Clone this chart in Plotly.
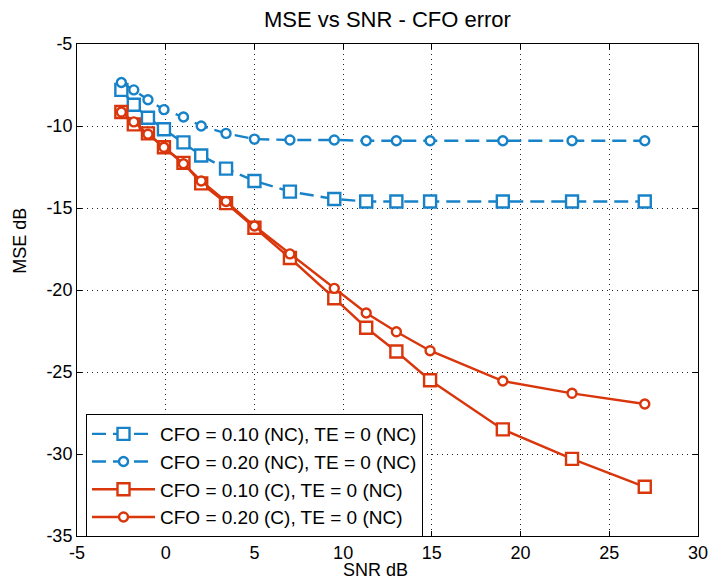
import plotly.graph_objects as go

# SNR sweep (dB)
snr = [-2.5, -1.8, -1, -0.1, 1, 2, 3.4, 5, 7, 9.5, 11.3, 13, 14.9, 19, 22.9, 27]

# MSE (dB) per configuration
mse_cfo10_nc = [-7.8, -8.7, -9.5, -10.2, -11.0, -11.8, -12.6, -13.35, -14.0, -14.45,
                -14.6, -14.6, -14.6, -14.6, -14.6, -14.6]
mse_cfo20_nc = [-7.35, -7.8, -8.4, -9.0, -9.45, -10.0, -10.45, -10.8, -10.85, -10.85,
                -10.9, -10.9, -10.9, -10.9, -10.9, -10.9]
mse_cfo10_c = [-9.15, -9.9, -10.45, -11.3, -12.25, -13.5, -14.7, -16.2, -18.05, -20.5,
               -22.3, -23.75, -25.5, -28.5, -30.3, -32.0]
mse_cfo20_c = [-9.15, -9.75, -10.5, -11.3, -12.3, -13.35, -14.6, -16.1, -17.8, -19.9,
               -21.4, -22.55, -23.7, -25.55, -26.3, -26.95]

labels = [
    "CFO = 0.10 (NC), TE = 0 (NC)",
    "CFO = 0.20 (NC), TE = 0 (NC)",
    "CFO = 0.10 (C), TE = 0 (NC)",
    "CFO = 0.20 (C), TE = 0 (NC)",
]

x_ticks = [-5, 0, 5, 10, 15, 20, 25, 30]
y_ticks = [-5, -10, -15, -20, -25, -30, -35]

BLUE = "#1782c8"
RED = "#d9360c"
FONT = "Liberation Sans, Arial, sans-serif"
DASH = "14px,7px"

series = [
    (mse_cfo10_nc, labels[0], BLUE, DASH, "square", 12),
    (mse_cfo20_nc, labels[1], BLUE, DASH, "circle", 9),
    (mse_cfo10_c, labels[2], RED, "solid", "square", 12),
    (mse_cfo20_c, labels[3], RED, "solid", "circle", 9),
]

fig = go.Figure()
for ys, name, color, dash, symbol, size in series:
    fig.add_trace(go.Scatter(
        x=snr, y=ys, name=name, mode="lines+markers",
        line=dict(color=color, width=2.4, dash=dash),
        marker=dict(symbol=symbol, size=size, color="white",
                    line=dict(color=color, width=2.4)),
    ))

axis_common = dict(
    showline=True, linecolor="black", linewidth=1, mirror="ticks",
    ticks="inside", ticklen=5, tickcolor="black",
    showgrid=True, gridcolor="#222222", gridwidth=1, griddash="1px,4px",
    zeroline=False, tickfont=dict(family=FONT, size=18, color="black"),
    ticklabeloverflow="allow", automargin=False,
)

# hyphen-minus labels, as in the classic plotting style
fig.update_xaxes(range=[-5, 30], tickvals=x_ticks,
                 ticktext=[str(v) for v in x_ticks], **axis_common)
fig.update_yaxes(range=[-35, -5], tickvals=y_ticks,
                 ticktext=[str(v) for v in y_ticks], **axis_common)

fig.update_layout(
    width=709, height=585, autosize=False,
    margin=dict(l=77, r=11, t=44, b=49),
    paper_bgcolor="white", plot_bgcolor="white",
    font=dict(family=FONT, size=18, color="black"),
    showlegend=True,
    legend=dict(
        x=0.0145, y=0.248, xanchor="left", yanchor="top",
        bgcolor="white", bordercolor="black", borderwidth=1,
        font=dict(family=FONT, size=19, color="black"),
        itemwidth=63, tracegroupgap=0,
    ),
    annotations=[
        dict(text="MSE vs SNR - CFO error", xref="paper", yref="paper",
             x=0.5, y=1.049, xanchor="center", yanchor="middle",
             showarrow=False, font=dict(size=22)),
        dict(text="MSE dB", xref="paper", yref="paper", textangle=-90,
             x=-0.092, y=0.6, xanchor="center", yanchor="middle",
             showarrow=False, font=dict(size=18)),
        dict(text="SNR dB", xref="paper", yref="paper",
             x=0.48, y=-0.069, xanchor="center", yanchor="middle",
             showarrow=False, font=dict(size=18)),
    ],
)

fig.write_html("out.html")
